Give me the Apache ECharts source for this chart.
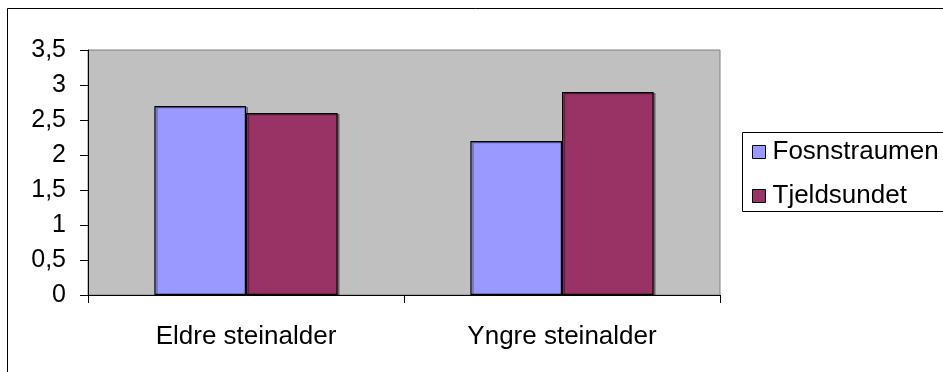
<!DOCTYPE html>
<html>
<head>
<meta charset="utf-8">
<script src="https://cdn.jsdelivr.net/npm/echarts@6/dist/echarts.min.js"></script>
<style>
  html, body { margin: 0; padding: 0; background: #fff; }
  #chart { width: 943px; height: 372px; }
</style>
</head>
<body>
<div id="chart"></div>
<script>
// Periods on the x axis
const categories = ['Eldre steinalder', 'Yngre steinalder'];
// Values per locality
const fosnstraumen = [2.7, 2.2];
const tjeldsundet = [2.6, 2.9];
const seriesNames = ['Fosnstraumen', 'Tjeldsundet'];
const seriesColors = ['#9999FF', '#993366'];

const font = '"Liberation Sans", Arial, sans-serif';
const chart = echarts.init(document.getElementById('chart'), null, { renderer: 'canvas' });

const barStyle = (color) => ({
  color: color,
  borderColor: '#000',
  borderWidth: 1.2,
  shadowColor: 'rgba(0,0,0,0.35)',
  shadowOffsetX: 2,
  shadowOffsetY: 1,
  shadowBlur: 0
});

chart.setOption({
  animation: false,
  backgroundColor: '#fff',
  graphic: [
    {
      // outer chart frame (runs past the right and bottom edges)
      type: 'rect',
      shape: { x: 7.5, y: 8.5, width: 960, height: 400 },
      style: { fill: 'none', stroke: '#000', lineWidth: 1 },
      z: 0
    },
    {
      // legend frame, open past the right edge
      type: 'rect',
      shape: { x: 742.5, y: 132.5, width: 300, height: 79 },
      style: { fill: '#fff', stroke: '#000', lineWidth: 1 },
      z: 1
    }
  ],
  grid: {
    left: 88, top: 50, right: 223, bottom: 77,
    show: true,
    backgroundColor: '#C0C0C0',
    borderColor: '#808080',
    borderWidth: 1
  },
  legend: {
    orient: 'vertical',
    left: 742, top: 132,
    padding: [7, 0, 5, 10],
    itemGap: 18,
    itemWidth: 13, itemHeight: 13,
    icon: 'rect',
    borderWidth: 0,
    z: 5,
    textStyle: { fontFamily: font, fontSize: 26, color: '#000', lineHeight: 25, padding: [0, 0, 0, 2] },
    itemStyle: { borderColor: '#000', borderWidth: 1, shadowBlur: 0, shadowOffsetX: 0, shadowOffsetY: 0 },
    data: seriesNames
  },
  xAxis: {
    type: 'category',
    data: categories,
    axisLine: { show: true, lineStyle: { color: '#000', width: 1 } },
    axisTick: { show: true, length: 8, alignWithLabel: false, lineStyle: { color: '#000' } },
    axisLabel: { fontFamily: font, fontSize: 26, color: '#000', margin: 29 },
    splitLine: { show: false }
  },
  yAxis: {
    type: 'value',
    min: 0, max: 3.5, interval: 0.5,
    axisLine: { show: true, lineStyle: { color: '#000', width: 1 } },
    axisTick: { show: true, length: 8, lineStyle: { color: '#000' } },
    axisLabel: {
      fontFamily: font, fontSize: 25, color: '#000', margin: 22,
      formatter: (v) => String(v).replace('.', ',')
    },
    splitLine: { show: false }
  },
  series: [
    {
      name: seriesNames[0], type: 'bar', data: fosnstraumen,
      barGap: '0%', barCategoryGap: '42%',
      itemStyle: barStyle(seriesColors[0])
    },
    {
      name: seriesNames[1], type: 'bar', data: tjeldsundet,
      barGap: '0%', barCategoryGap: '42%',
      itemStyle: barStyle(seriesColors[1])
    }
  ]
});
</script>
</body>
</html>
